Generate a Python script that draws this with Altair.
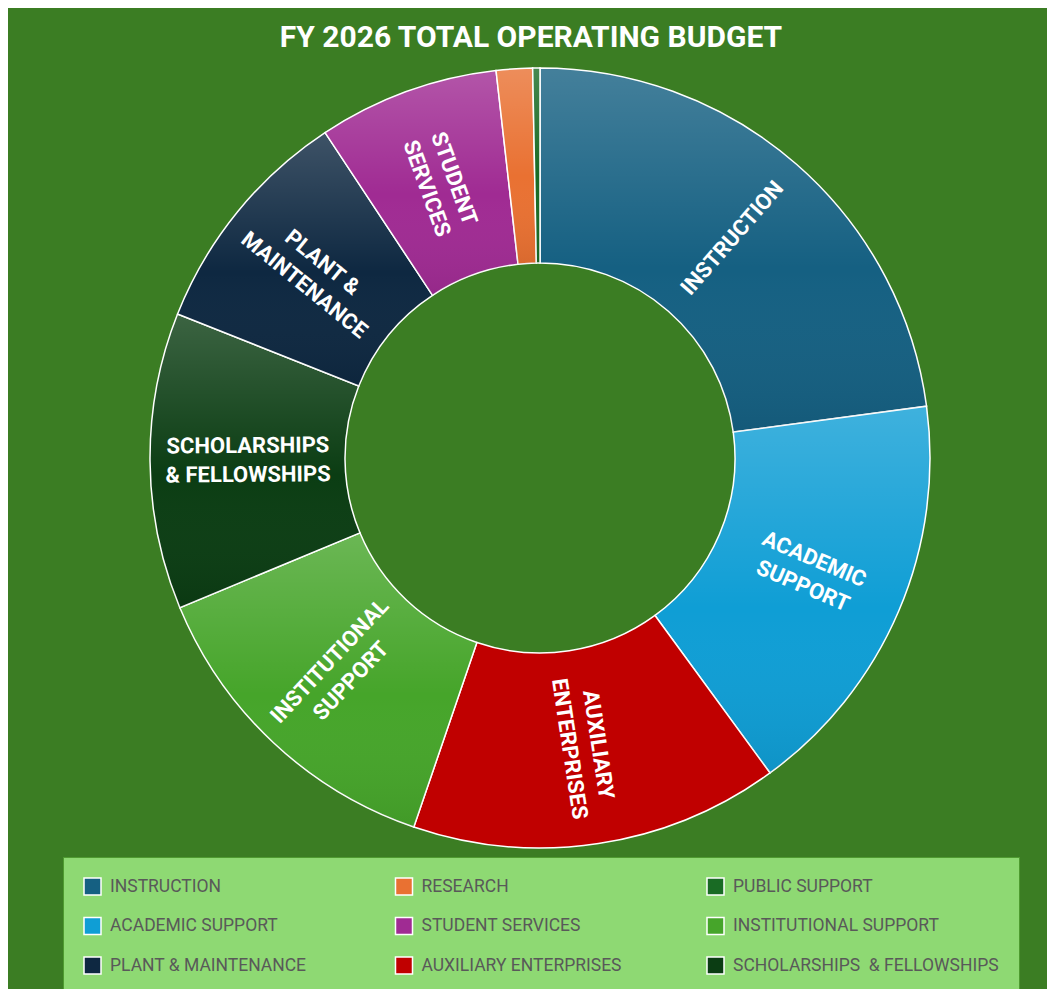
import math
import altair as alt
import pandas as pd

# ---------------- data ----------------
TITLE = "FY 2026 TOTAL OPERATING BUDGET"

CATEGORIES = [
    "INSTRUCTION",
    "ACADEMIC SUPPORT",
    "AUXILIARY ENTERPRISES",
    "INSTITUTIONAL SUPPORT",
    "SCHOLARSHIPS \u00a0& FELLOWSHIPS",
    "PLANT & MAINTENANCE",
    "STUDENT SERVICES",
    "RESEARCH",
    "PUBLIC SUPPORT",
]
SHARES = [22.9, 17.1, 15.3, 13.5, 12.3, 9.7, 7.5, 1.5, 0.3]
SLICE_LABELS = [
    "INSTRUCTION",
    "ACADEMIC\nSUPPORT",
    "AUXILIARY\nENTERPRISES",
    "INSTITUTIONAL\nSUPPORT",
    "SCHOLARSHIPS\n& FELLOWSHIPS",
    "PLANT &\nMAINTENANCE",
    "STUDENT\nSERVICES",
    "",
    "",
]
# Excel gradient look: flat fill for auxiliary enterprises, shaded elsewhere
SHADED = [True, True, False, True, True, True, True, True, True]
COLORS = {
    "INSTRUCTION": "#156082",
    "RESEARCH": "#E97132",
    "PUBLIC SUPPORT": "#196B24",
    "ACADEMIC SUPPORT": "#0F9ED5",
    "STUDENT SERVICES": "#A02B93",
    "INSTITUTIONAL SUPPORT": "#46A52A",
    "PLANT & MAINTENANCE": "#0E2841",
    "AUXILIARY ENTERPRISES": "#C00000",
    "SCHOLARSHIPS \u00a0& FELLOWSHIPS": "#0B3D13",
}
# legend is laid out row by row, three per row
LEGEND_ORDER = [
    "INSTRUCTION", "RESEARCH", "PUBLIC SUPPORT",
    "ACADEMIC SUPPORT", "STUDENT SERVICES", "INSTITUTIONAL SUPPORT",
    "PLANT & MAINTENANCE", "AUXILIARY ENTERPRISES", "SCHOLARSHIPS \u00a0& FELLOWSHIPS",
]

df = pd.DataFrame({
    "order": list(range(len(CATEGORIES))),
    "category": CATEGORIES,
    "share": SHARES,
    "label": SLICE_LABELS,
    "shaded": SHADED,
})

# ---------------- layout ----------------
W, H = 1039, 981
CX, CY = 532, 450
R_IN, R_OUT = 195, 390
R_LABEL = 292
BG = "#3B7D23"
LINE_H = 29

theta_scale = alt.Scale(domain=[0, 1], range=[0, 2 * math.pi])

base = (
    alt.Chart(df)
    .transform_joinaggregate(total="sum(share)")
    .transform_window(cum="sum(share)", sort=[alt.SortField("order")], frame=[None, 0])
    .transform_calculate(
        t0="(datum.cum - datum.share) / datum.total",
        t1="datum.cum / datum.total",
        tm="(datum.cum - datum.share / 2) / datum.total",
    )
    .transform_calculate(md="datum.tm * 360")
    .transform_calculate(ang="((datum.md < 180 ? datum.md - 90 : datum.md - 270) + 360) % 360")
)

arcs = base.mark_arc(
    innerRadius=R_IN, outerRadius=R_OUT, stroke="white", strokeWidth=1.5
).encode(
    theta=alt.Theta("t0:Q", scale=theta_scale, stack=False),
    theta2="t1:Q",
    color=alt.Color(
        "category:N",
        scale=alt.Scale(domain=LEGEND_ORDER, range=[COLORS[c] for c in LEGEND_ORDER]),
        legend=alt.Legend(
            title=None,
            orient="none",
            legendX=55,
            legendY=849,
            direction="horizontal",
            columns=3,
            gridAlign="all",
            columnPadding=16.5,
            rowPadding=16.5,
            padding=20,
            fillColor="#8ED973",
            strokeColor="#4E9B30",
            symbolType="square",
            symbolSize=289,
            symbolStrokeColor="white",
            symbolStrokeWidth=1.5,
            symbolOpacity=1,
            labelFont="Roboto",
            labelFontSize=17.5,
            labelColor="#595959",
            labelOffset=8,
            labelLimit=400,
        ),
    ),
    x=alt.value(CX),
    y=alt.value(CY),
)

shade = base.transform_filter("datum.shaded").mark_arc(
    innerRadius=R_IN,
    outerRadius=R_OUT,
    strokeWidth=0,
    fill={
        "gradient": "linear",
        "x1": 0, "y1": 0, "x2": 0, "y2": 1,
        "stops": [
            {"offset": 0, "color": "rgba(255,255,255,0.2)"},
            {"offset": 0.55, "color": "rgba(255,255,255,0.0)"},
            {"offset": 1, "color": "rgba(0,0,0,0.07)"},
        ],
    },
).encode(
    theta=alt.Theta("t0:Q", scale=theta_scale, stack=False),
    theta2="t1:Q",
    x=alt.value(CX),
    y=alt.value(CY),
)

label_style = dict(
    font="Roboto",
    fontWeight="bold",
    fontSize=22,
    color="white",
    lineBreak="\n",
    lineHeight=LINE_H,
    align="center",
    baseline="middle",
)
label_enc = dict(
    theta=alt.Theta("tm:Q", scale=theta_scale, stack=False),
    radius=alt.value(R_LABEL),
    text="label:N",
    angle=alt.Angle("ang:Q", scale=None),
    x=alt.value(CX),
    y=alt.value(CY),
)

labels_one = base.transform_filter(
    "datum.label != '' && indexof(datum.label, '\\n') < 0"
).mark_text(**label_style).encode(**label_enc)

labels_two = base.transform_filter(
    "indexof(datum.label, '\\n') >= 0"
).mark_text(dy=-LINE_H / 2, **label_style).encode(**label_enc)

title = alt.Chart(pd.DataFrame({"t": [TITLE]})).mark_text(
    font="Roboto",
    fontWeight="bold",
    fontSize=30,
    color="white",
    align="center",
    baseline="alphabetic",
).encode(text="t:N", x=alt.value(523), y=alt.value(39))

chart = (
    alt.layer(arcs, shade, labels_one, labels_two, title)
    .properties(
        width=W,
        height=H,
        padding=0,
        background=BG,
        autosize=alt.AutoSizeParams(type="none"),
    )
    .configure_view(strokeWidth=0)
)

chart.save("out.html", embed_options={"renderer": "svg", "actions": False})
